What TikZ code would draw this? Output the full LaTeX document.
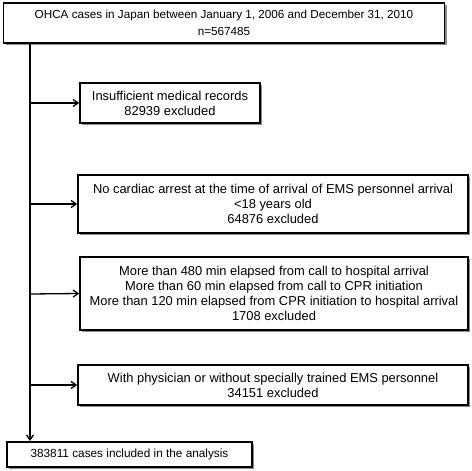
\documentclass[tikz,border=0pt]{standalone}
\usepackage{fontspec}
\setmainfont{Liberation Sans}
\usetikzlibrary{shadows,arrows.meta}
\begin{document}
\begin{tikzpicture}[x=1pt,y=-1pt,
  box/.style={draw=black, line width=1.6pt, fill=white, align=center, inner sep=0pt,
    drop shadow={shadow xshift=2pt, shadow yshift=-2pt, fill=black!45, opacity=1}},
  small/.style={font=\fontsize{12.9}{15}\selectfont},
  conn/.style={line width=1.3pt, -{Straight Barb[length=5pt,width=7pt]}}]
\useasboundingbox (0,0) rectangle (472,471);
\node[box, minimum width=441pt, minimum height=40pt, font=\fontsize{11.7}{17.5}\selectfont] (top) at (224,23)
  {OHCA cases in Japan between January 1, 2006 and December 31, 2010\\n=567485};
\node[box, small, minimum width=180pt, minimum height=40pt] (b1) at (170,103)
  {Insufficient medical records\\82939 excluded};
\node[box, small, minimum width=390pt, minimum height=58pt] (b2) at (273,204)
  {No cardiac arrest at the time of arrival of EMS personnel arrival\\<18 years old\\64876 excluded};
\node[box, small, minimum width=388pt, minimum height=73pt] (b3) at (274,293.5)
  {More than 480 min elapsed from call to hospital arrival\\More than 60 min elapsed from call to CPR initiation\\More than 120 min elapsed from CPR initiation to hospital arrival\\1708 excluded};
\node[box, small, minimum width=390pt, minimum height=40pt] (b4) at (273,385)
  {With physician or without specially trained EMS personnel\\34151 excluded};
\node[box, minimum width=245pt, minimum height=25pt, font=\fontsize{11.8}{15}\selectfont] (bot) at (129.5,454.5)
  {383811 cases included in the analysis};
\coordinate (s) at (30,43);
\coordinate (e) at (30,441);
\draw[conn] (s) -- (e);
\coordinate (j1) at (30,103);
\coordinate (j2) at (30,204);
\coordinate (j3) at (30,294);
\coordinate (j4) at (30,385);
\draw[conn] (j1) -- (b1.west);
\draw[conn] (j2) -- (b2.west);
\draw[conn] (j3) -- (b3.west);
\draw[conn] (j4) -- (b4.west);
\end{tikzpicture}
\end{document}
